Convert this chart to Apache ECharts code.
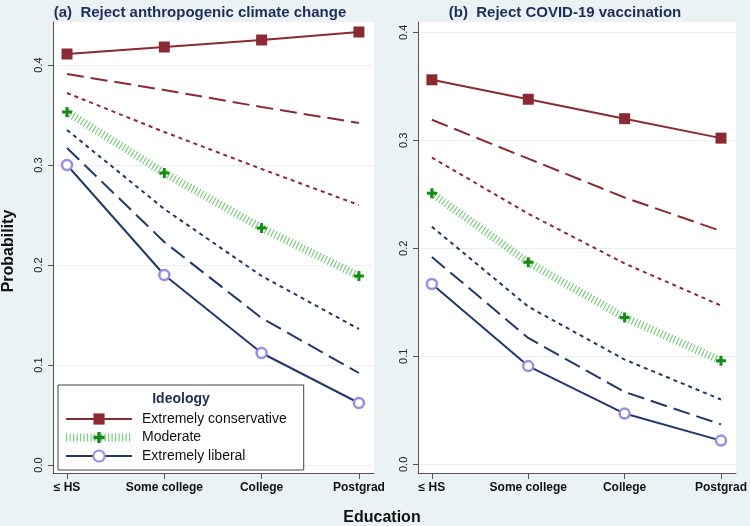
<!DOCTYPE html>
<html><head><meta charset="utf-8">
<script src="https://cdn.jsdelivr.net/npm/echarts@6/dist/echarts.min.js"></script>
<style>html,body{margin:0;padding:0;background:#eaf2f3}#c{width:750px;height:526px}</style>
</head><body><div id="c"></div>
<script>
const categories = ['≤ HS', 'Some college', 'College', 'Postgrad'];
const yTicks = [0, 0.1, 0.2, 0.3, 0.4];
const ideologies = ['Extremely conservative', 'Conservative', 'Slightly conservative', 'Moderate', 'Slightly liberal', 'Liberal', 'Extremely liberal'];
const legendNames = ['Extremely conservative', 'Moderate', 'Extremely liberal'];
const panelTitles = ['(a)  Reject anthropogenic climate change', '(b)  Reject COVID-19 vaccination'];

// Panel (a): Reject anthropogenic climate change
const climateExtCons  = [0.411, 0.418, 0.425, 0.433];
const climateCons     = [0.391, 0.375, 0.358, 0.342];
const climateSlCons   = [0.372, 0.333, 0.296, 0.260];
const climateModerate = [0.353, 0.292, 0.237, 0.189];
const climateSlLib    = [0.335, 0.256, 0.189, 0.136];
const climateLib      = [0.317, 0.223, 0.147, 0.092];
const climateExtLib   = [0.300, 0.190, 0.112, 0.062];

// Panel (b): Reject COVID-19 vaccination
const covidExtCons  = [0.356, 0.338, 0.320, 0.302];
const covidCons     = [0.319, 0.283, 0.247, 0.216];
const covidSlCons   = [0.284, 0.232, 0.186, 0.147];
const covidModerate = [0.251, 0.187, 0.136, 0.096];
const covidSlLib    = [0.220, 0.146, 0.097, 0.060];
const covidLib      = [0.192, 0.117, 0.067, 0.037];
const covidExtLib   = [0.167, 0.091, 0.047, 0.022];

const panels = [
  [climateExtCons, climateCons, climateSlCons, climateModerate, climateSlLib, climateLib, climateExtLib],
  [covidExtCons, covidCons, covidSlCons, covidModerate, covidSlLib, covidLib, covidExtLib]
];

const RED = '#8b2a32', BLUE = '#1f3a6a', GREEN = '#7ccc7c', GREEN_D = '#178a17', LAV = '#9a8fe0';
const PLUS = 'path://M3.5,0H6.5V3.5H10V6.5H6.5V10H3.5V6.5H0V3.5H3.5Z';
const styles = [
  {color: RED, type: 'solid', width: 2, symbol: 'rect', size: 11, item: {color: RED}},
  {color: RED, type: [17, 7], width: 2},
  {color: RED, type: [4, 4], width: 2},
  {color: GREEN, type: [1.2, 2.3], width: 8, symbol: PLUS, size: 10, item: {color: GREEN_D}},
  {color: BLUE, type: [4, 4], width: 2},
  {color: BLUE, type: [17, 7], width: 2},
  {color: BLUE, type: 'solid', width: 2, symbol: 'circle', size: 10, item: {color: '#fff', borderColor: LAV, borderWidth: 2.5}}
];

const FONT = 'Liberation Sans, Arial, sans-serif';
const yRanges = [[-0.008, 0.443], [-0.008, 0.4095]];
const grids = [
  {left: 53, top: 22, width: 321, height: 451},
  {left: 418, top: 22, width: 320, height: 451}
];

const series = [];
panels.forEach((panel, p) => {
  panel.forEach((vals, k) => {
    const s = styles[k];
    series.push({
      type: 'line', name: ideologies[k], xAxisIndex: p, yAxisIndex: p,
      data: vals.map((v, i) => [i, v]),
      lineStyle: {color: s.color, type: s.type, width: s.width, cap: 'butt'},
      symbol: s.symbol || 'none', symbolSize: s.size || 0, showSymbol: !!s.symbol,
      itemStyle: s.item || {color: s.color},
      silent: true, animation: false, z: 2 + (k === 0 || k === 6 || k === 3 ? 1 : 0)
    });
  });
});

const option = {
  backgroundColor: '#eaf2f3',
  textStyle: {fontFamily: FONT},
  animation: false,
  grid: grids.map(g => Object.assign({show: true, backgroundColor: '#fff', borderWidth: 0}, g)),
  xAxis: grids.map((g, i) => ({
    type: 'value', gridIndex: i, min: -0.144, max: 3.155,
    axisLine: {show: true, onZero: false, lineStyle: {color: '#555', width: 1}},
    axisTick: {show: true, customValues: [0, 1, 2, 3], length: 6, lineStyle: {color: '#555'}},
    axisLabel: {customValues: [0, 1, 2, 3], formatter: v => categories[Math.round(v)],
      fontWeight: 'bold', fontSize: 12, color: '#111', margin: 9, fontFamily: FONT},
    splitLine: {show: false}
  })),
  yAxis: grids.map((g, i) => ({
    type: 'value', gridIndex: i, min: yRanges[i][0], max: yRanges[i][1],
    axisLine: {show: true, onZero: false, lineStyle: {color: '#555', width: 1}},
    axisTick: {show: true, customValues: yTicks, length: 5, lineStyle: {color: '#555'}},
    axisLabel: {customValues: yTicks, formatter: v => v.toFixed(1), rotate: 90,
      fontSize: 11, color: '#222', margin: 9, fontFamily: FONT},
    splitLine: {show: true, lineStyle: {color: '#e6eff1', width: 1}}
  })),
  legend: {
    data: legendNames, orient: 'vertical', left: 58, top: 385,
    backgroundColor: '#fff', borderColor: '#444', borderWidth: 1,
    padding: [27, 17, 7, 4], itemWidth: 66, itemHeight: 14, itemGap: 4.5,
    lineStyle: {width: 'inherit'},
    textStyle: {fontSize: 14, color: '#111', padding: [0, 0, 0, 5], fontFamily: FONT},
    selectedMode: false
  },
  graphic: [
    {type: 'text', x: 200, y: 13, z: 100, style: {text: panelTitles[0], font: 'bold 15px ' + FONT, fill: '#1f2d5a', textAlign: 'center', textVerticalAlign: 'middle'}},
    {type: 'text', x: 565, y: 13, z: 100, style: {text: panelTitles[1], font: 'bold 15px ' + FONT, fill: '#1f2d5a', textAlign: 'center', textVerticalAlign: 'middle'}},
    {type: 'text', x: 9, y: 251, rotation: Math.PI / 2, z: 100, style: {text: 'Probability', font: 'bold 16px ' + FONT, fill: '#111', textAlign: 'center', textVerticalAlign: 'middle'}},
    {type: 'text', x: 382, y: 518, z: 100, style: {text: 'Education', font: 'bold 16px ' + FONT, fill: '#111', textAlign: 'center', textVerticalAlign: 'middle'}},
    {type: 'text', x: 181, y: 399, z: 100, style: {text: 'Ideology', font: 'bold 14px ' + FONT, fill: '#1f2d5a', textAlign: 'center', textVerticalAlign: 'middle'}}
  ],
  series: series
};
const chart = echarts.init(document.getElementById('c'), null, {renderer: 'canvas'});
chart.setOption(option);
</script></body></html>
